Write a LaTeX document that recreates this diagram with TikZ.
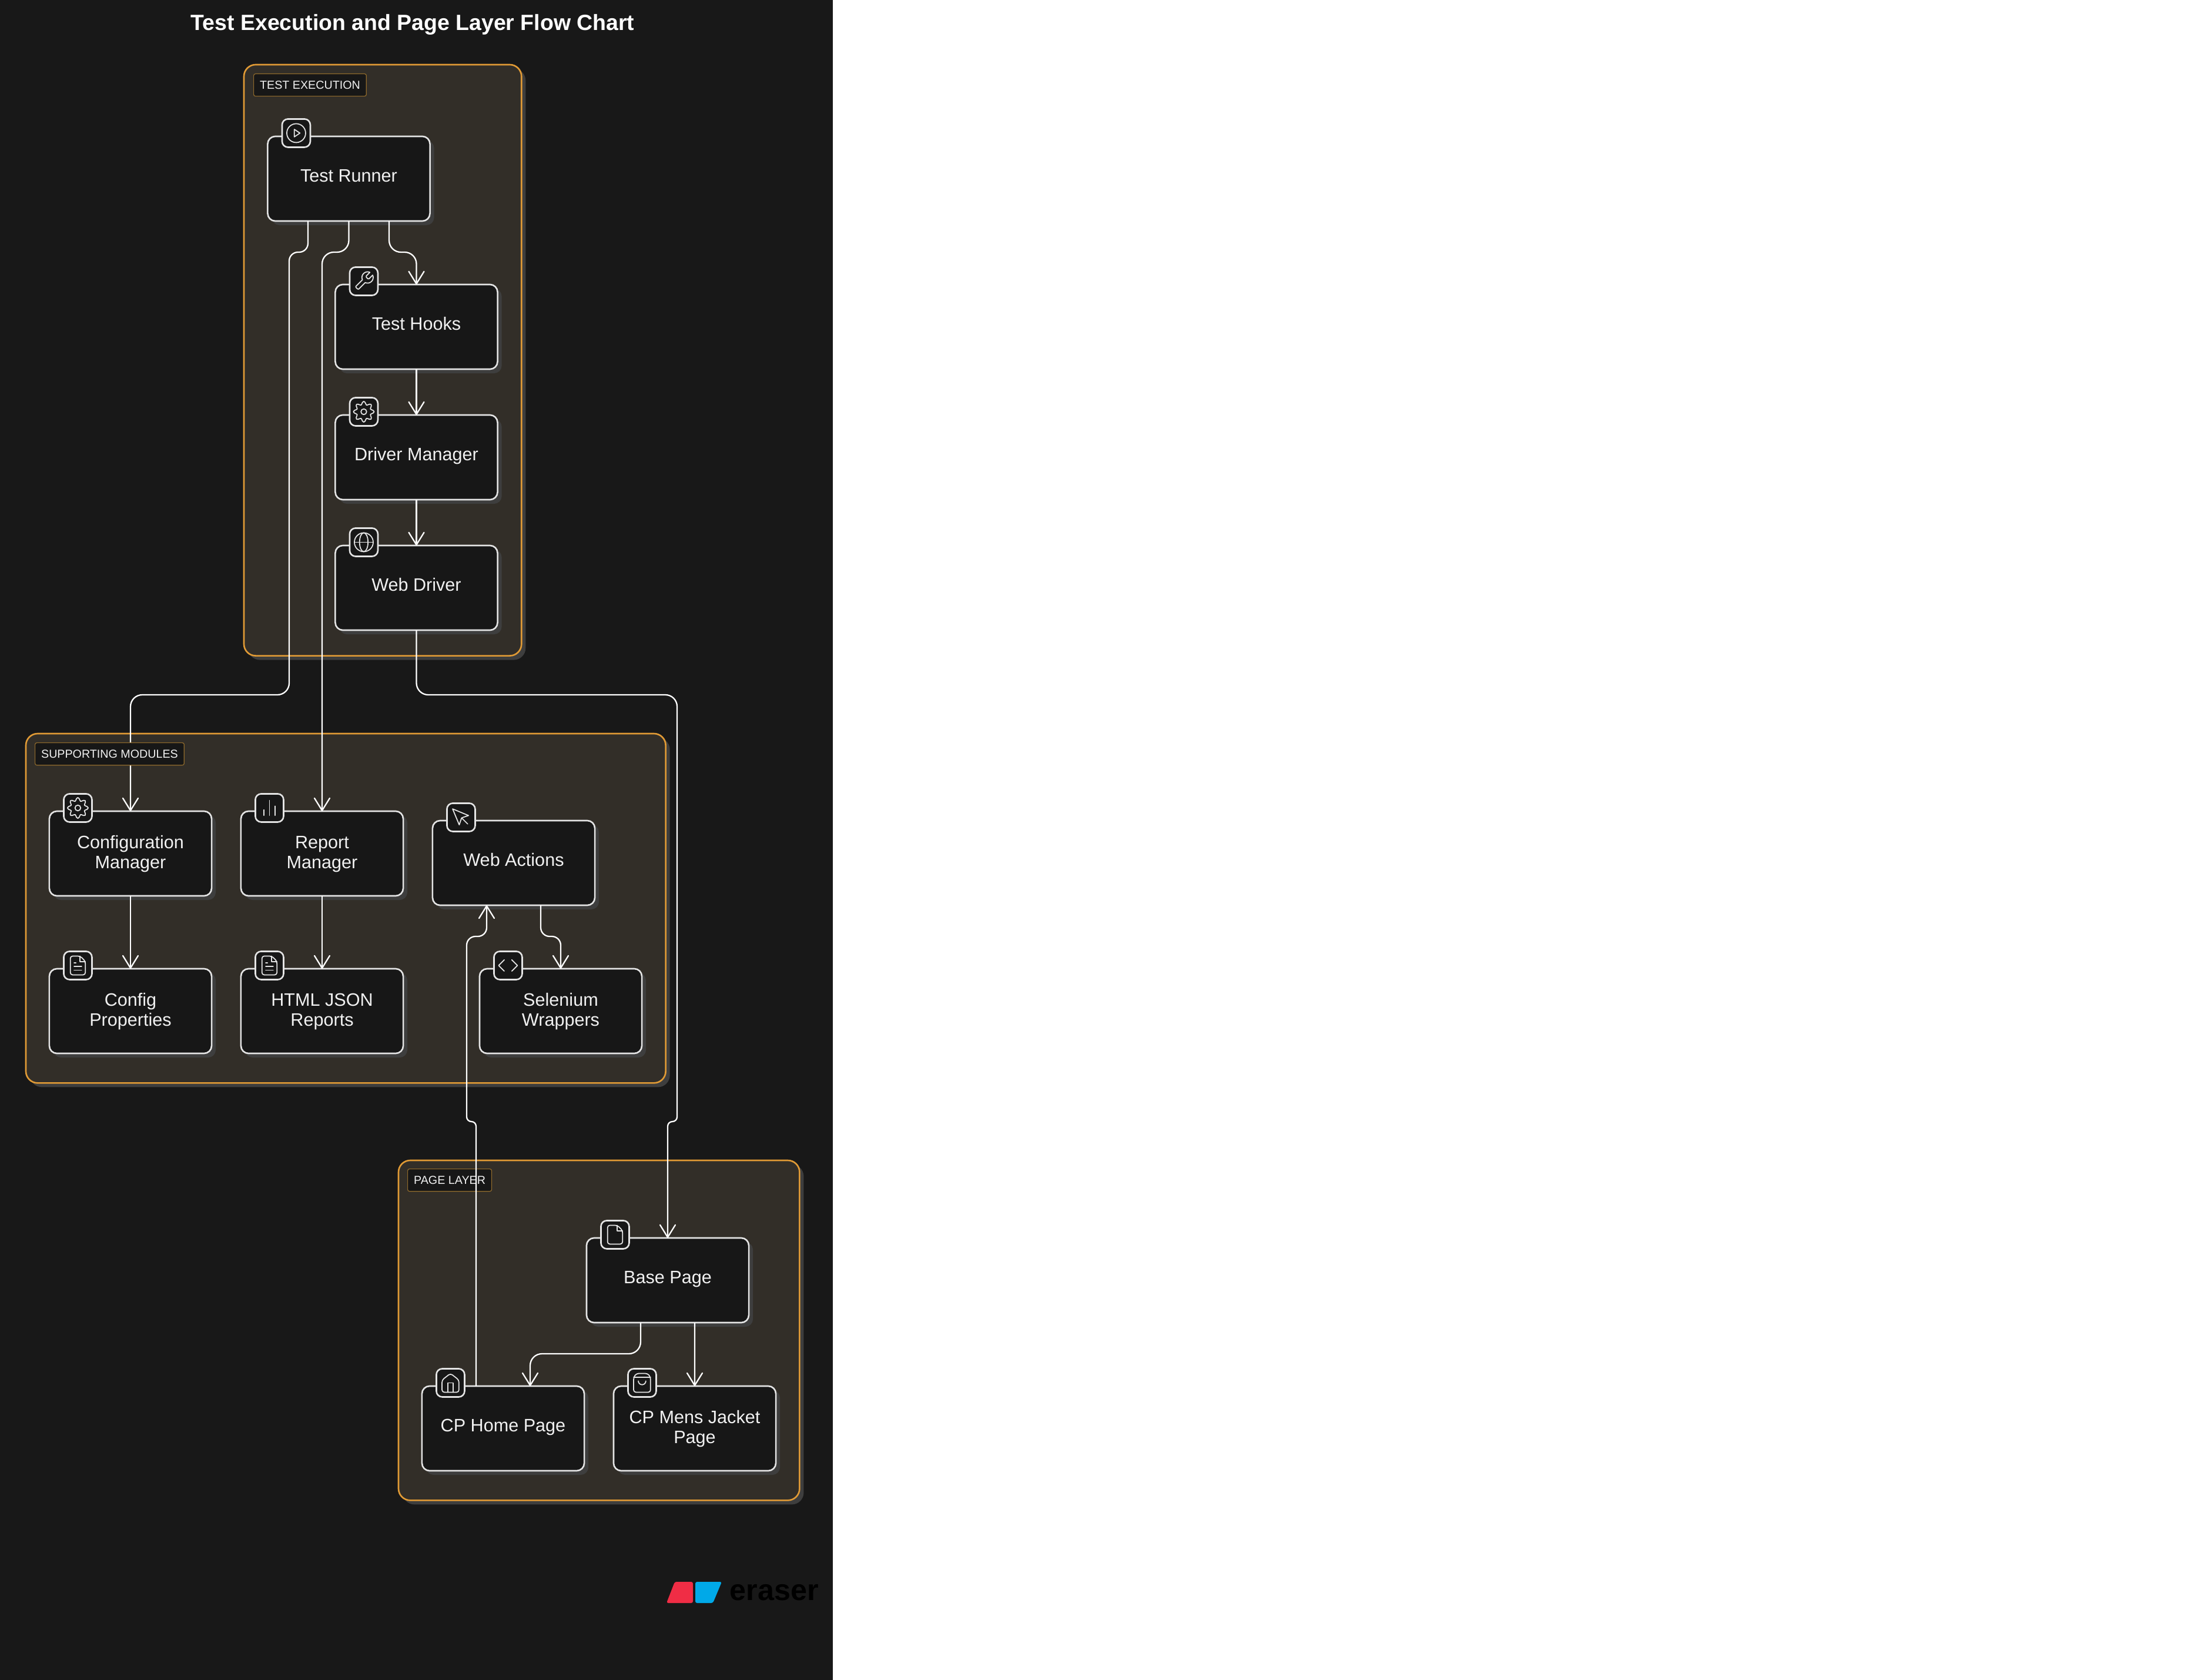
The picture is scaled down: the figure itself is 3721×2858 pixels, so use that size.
\documentclass[tikz,border=0pt]{standalone}
\usepackage{fontspec}
\setmainfont{Liberation Sans}
\usetikzlibrary{arrows.meta, shadows}
\definecolor{pagebg}{HTML}{181818}
\definecolor{groupbg}{HTML}{322E28}
\definecolor{groupline}{HTML}{E09A35}
\definecolor{tagline}{HTML}{8F6A2C}
\definecolor{nodebg}{HTML}{171717}
\definecolor{nodeline}{HTML}{E4E4E4}
\definecolor{shadowgray}{HTML}{3E3E3E}
\definecolor{logored}{HTML}{F02D45}
\definecolor{logoblue}{HTML}{00A9E8}
\tikzset{
    glyph/.style={draw=nodeline, line width=0.5pt, line cap=round, line join=round, scale=1.6, shift={(-12,-12)}},
    iconplay/.pic={
        \draw[glyph] (12,12) circle (10);
        \draw[glyph] (10,8) -- (16,12) -- (10,16) -- cycle;
    },
    iconwrench/.pic={
        \draw[glyph] (14.7,6.3) -- (14.7,7.7) -- (16.3,9.3) -- (17.7,9.3) -- (21.47,5.53)
            .. controls (23.74,10.53) and (18.55,15.71) .. (13.53,13.47) -- (6.62,20.38)
            .. controls (5.8,21.2) and (2.8,18.2) .. (3.62,17.38) -- (10.53,10.47)
            .. controls (8.26,5.46) and (13.45,0.29) .. (18.47,2.53) -- cycle;
    },
    icongear/.pic={
        \draw[glyph] plot[smooth cycle, samples=48, domain=0:352.5] ({12+(9.3+1.7*cos(8*\x))*cos(\x)},{12+(9.3+1.7*cos(8*\x))*sin(\x)});
        \draw[glyph] (12,12) circle (3);
    },
    iconglobe/.pic={
        \draw[glyph] (12,12) circle (10);
        \draw[glyph] (2,12) -- (22,12);
        \draw[glyph] (12,12) ellipse (4.5 and 10);
    },
    iconbars/.pic={
        \draw[glyph] (18,20) -- (18,10);
        \draw[glyph] (12,20) -- (12,4);
        \draw[glyph] (6,20) -- (6,14);
    },
    iconfile/.pic={
        \draw[glyph, rounded corners=0.04cm] (14.5,2) -- (4,2) -- (4,22) -- (20,22) -- (20,7.5) -- cycle;
        \draw[glyph] (14,2) -- (14,8) -- (20,8);
    },
    icontext/.pic={
        \draw[glyph, rounded corners=0.04cm] (14.5,2) -- (4,2) -- (4,22) -- (20,22) -- (20,7.5) -- cycle;
        \draw[glyph] (14,2) -- (14,8) -- (20,8);
        \draw[glyph] (16,13) -- (8,13);
        \draw[glyph] (16,17) -- (8,17);
        \draw[glyph] (10,9) -- (8,9);
    },
    iconpointer/.pic={
        \draw[glyph] (3,3) -- (10.07,19.97) -- (12.58,12.58) -- (19.97,10.07) -- cycle;
        \draw[glyph] (13,13) -- (19,19);
    },
    iconcode/.pic={
        \draw[glyph] (16,18) -- (22,12) -- (16,6);
        \draw[glyph] (8,6) -- (2,12) -- (8,18);
    },
    iconhome/.pic={
        \draw[glyph, rounded corners=0.04cm] (3,9) -- (12,2) -- (21,9) -- (21,22) -- (3,22) -- cycle;
        \draw[glyph] (9,22) -- (9,12) -- (15,12) -- (15,22);
    },
    iconbag/.pic={
        \draw[glyph, rounded corners=0.04cm] (6,2) -- (3,6) -- (3,22) -- (21,22) -- (21,6) -- (18,2) -- cycle;
        \draw[glyph] (3,6) -- (21,6);
        \draw[glyph] (16,10) arc (0:180:4 and 4);
    },
}
\begin{document}
\begin{tikzpicture}[
    x=0.01cm, y=-0.01cm,
    groupbox/.style={draw=groupline, line width=0.75pt, fill=groupbg, rounded corners=0.2cm, anchor=north west, outer sep=0pt,
        drop shadow={shadow xshift=0.07cm, shadow yshift=-0.07cm, fill=shadowgray, opacity=1}},
    grouptag/.style={draw=tagline, line width=0.35pt, fill=nodebg, rounded corners=0.03cm, anchor=north west, minimum height=0.38cm,
        inner xsep=0.105cm, inner ysep=0pt, text=nodeline!50!white, font=\fontsize{5.6}{6.5}\selectfont},
    modbox/.style={draw=nodeline, line width=0.75pt, fill=nodebg, rounded corners=0.13cm, minimum width=2.76cm, minimum height=1.44cm,
        inner sep=0pt, outer sep=0pt, align=center, text=nodeline!50!white, font=\fontsize{8.7}{9.67}\selectfont,
        drop shadow={shadow xshift=0.07cm, shadow yshift=-0.07cm, fill=shadowgray, opacity=1}},
    oneline/.style={text height=0.22cm, text depth=0.106cm},
    twolines/.style={text height=0.56cm, text depth=0.06cm},
    iconbox/.style={draw=nodeline, line width=0.75pt, fill=nodebg, rounded corners=0.1cm, minimum size=0.48cm, inner sep=0pt, outer sep=0pt},
    flow/.style={draw=white, line width=0.65pt, rounded corners=0.2cm, -{Straight Barb[length=0.21cm, width=0.26cm, round]}},
]
\useasboundingbox (0,0) rectangle (3721,2858);
\fill[white] (0,0) rectangle (3721,2858);
\fill[pagebg] (0,0) rectangle (1417,2858);

\node[text=white, font=\fontsize{10.65}{13}\selectfont\bfseries] (title) at (702,42) {Test Execution and Page Layer Flow Chart};

\node[groupbox, minimum width=4.72cm, minimum height=10.05cm] (testexec) at (415,110) {};
\node[grouptag] (testexectag) at (431,125) {TEST EXECUTION};
\node[groupbox, minimum width=10.88cm, minimum height=5.94cm] (support) at (44,1248) {};
\node[groupbox, minimum width=6.82cm, minimum height=5.78cm] (pagelayer) at (678,1974) {};
\node[grouptag] (pagelayertag) at (693,1988) {PAGE LAYER};

\node[modbox, oneline] (runner) at (593.5,304) {Test Runner};
\node[modbox, oneline] (hooks) at (708.5,556) {Test Hooks};
\node[modbox, oneline] (driver) at (708.5,778) {Driver Manager};
\node[modbox, oneline] (webdriver) at (708.5,1000) {Web Driver};

\node[modbox, twolines] (configmgr) at (222,1452) {Configuration\\Manager};
\node[modbox, twolines] (reportmgr) at (548,1452) {Report\\Manager};
\node[modbox, oneline] (webactions) at (874,1468) {Web Actions};
\node[modbox, twolines] (configprops) at (222,1720) {Config\\Properties};
\node[modbox, twolines] (reports) at (548,1720) {HTML JSON\\Reports};
\node[modbox, twolines] (selenium) at (954,1720) {Selenium\\Wrappers};

\node[modbox, oneline] (basepage) at (1136,2178) {Base Page};
\node[modbox, oneline] (homepage) at (856,2430) {CP Home Page};
\node[modbox, twolines] (jacketpage) at (1182,2430) {CP Mens Jacket\\Page};

\node[iconbox] (icrunner) at ([xshift=0.485cm, yshift=0.055cm]runner.north west) {};
\node[iconbox] (ichooks) at ([xshift=0.485cm, yshift=0.055cm]hooks.north west) {};
\node[iconbox] (icdriver) at ([xshift=0.485cm, yshift=0.055cm]driver.north west) {};
\node[iconbox] (icwebdriver) at ([xshift=0.485cm, yshift=0.055cm]webdriver.north west) {};
\node[iconbox] (icconfigmgr) at ([xshift=0.485cm, yshift=0.055cm]configmgr.north west) {};
\node[iconbox] (icreportmgr) at ([xshift=0.485cm, yshift=0.055cm]reportmgr.north west) {};
\node[iconbox] (icwebactions) at ([xshift=0.485cm, yshift=0.055cm]webactions.north west) {};
\node[iconbox] (icconfigprops) at ([xshift=0.485cm, yshift=0.055cm]configprops.north west) {};
\node[iconbox] (icreports) at ([xshift=0.485cm, yshift=0.055cm]reports.north west) {};
\node[iconbox] (icselenium) at ([xshift=0.485cm, yshift=0.055cm]selenium.north west) {};
\node[iconbox] (icbasepage) at ([xshift=0.485cm, yshift=0.055cm]basepage.north west) {};
\node[iconbox] (ichomepage) at ([xshift=0.485cm, yshift=0.055cm]homepage.north west) {};
\node[iconbox] (icjacketpage) at ([xshift=0.485cm, yshift=0.055cm]jacketpage.north west) {};

\pic at (icrunner) {iconplay};
\pic at (ichooks) {iconwrench};
\pic at (icdriver) {icongear};
\pic at (icwebdriver) {iconglobe};
\pic at (icconfigmgr) {icongear};
\pic at (icreportmgr) {iconbars};
\pic at (icwebactions) {iconpointer};
\pic at (icconfigprops) {icontext};
\pic at (icreports) {icontext};
\pic at (icselenium) {iconcode};
\pic at (icbasepage) {iconfile};
\pic at (ichomepage) {iconhome};
\pic at (icjacketpage) {iconbag};

\draw[flow, rounded corners=0.15cm] ([xshift=-0.695cm]runner.south) |- (492,429) [rounded corners=0.2cm] |- (222,1182) -- (configmgr.north);
\draw[flow] (runner.south) |- (548,429) -- (reportmgr.north);
\draw[flow] ([xshift=0.685cm]runner.south) |- (708.5,429) -- (hooks.north);
\draw[flow] (hooks.south) -- (driver.north);
\draw[flow] (driver.south) -- (webdriver.north);
\draw[flow] (webdriver.south) |- (1152,1182) [rounded corners=0.08cm] |- (basepage.north |- 0,1908) -- (basepage.north);
\draw[flow] (configmgr.south) -- (configprops.north);
\draw[flow] (reportmgr.south) -- (reports.north);
\draw[flow, rounded corners=0.15cm] ([xshift=0.46cm]webactions.south) |- (954,1593) -- (selenium.north);
\draw[flow] ([xshift=-0.46cm]basepage.south) |- (902,2303) -- ([xshift=0.46cm]homepage.north);
\draw[flow] ([xshift=0.46cm]basepage.south) -- (jacketpage.north);
\draw[flow, rounded corners=0.08cm] ([xshift=-0.46cm]homepage.north) |- (794,1908) [rounded corners=0.15cm] |- (828,1593) -- ([xshift=-0.46cm]webactions.south);

\node[grouptag] (supporttag) at (59,1263) {SUPPORTING MODULES};

\fill[logored, rounded corners=0.03cm] (1148,2691) -- (1179,2691) -- (1179,2727) -- (1134,2727) -- cycle;
\fill[logoblue, rounded corners=0.03cm] (1183,2691) -- (1228,2691) -- (1213,2727) -- (1183,2727) -- cycle;
\node[anchor=west, inner sep=0pt, text=black, font=\fontsize{14.3}{16}\selectfont\bfseries] (logotext) at (1241,2709) {eraser};
\end{tikzpicture}
\end{document}
